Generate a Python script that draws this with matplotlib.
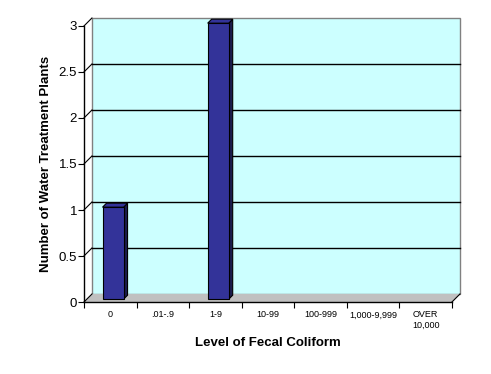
import matplotlib.pyplot as plt
from matplotlib.patches import Polygon, Rectangle

# ============================================
# Data
# ============================================
categories = ['0', '.01-.9', '1-9', '10-99', '100-999', '1,000-9,999', 'OVER\n10,000']
plant_counts = [1, 0, 3, 0, 0, 0, 0]
y_ticks = [0, 0.5, 1, 1.5, 2, 2.5, 3]

# ============================================
# Style / pseudo-3D geometry (Excel look)
# ============================================
WALL = '#ccffff'
FLOOR = '#c0c0c0'
BAR_FRONT = '#333399'
BAR_SIDE = '#1c1c4c'
DX, DY = 0.152, 0.087      # depth of the floor in data units
F1, F2 = 0.35, 0.85        # bar front/back depth fraction
BAR_W = 0.4

plt.rcParams['font.family'] = ['Liberation Sans', 'DejaVu Sans']

fig = plt.figure(figsize=(4.91, 3.74), dpi=100)
ax = fig.add_axes([0.171, 0.1925, 0.7495, 0.738])
n = len(categories)
ax.set_xlim(0, n)
ax.set_ylim(0, 3)

# back wall and floor
ax.add_patch(Rectangle((DX, DY), n, 3, facecolor=WALL, edgecolor='#808080',
                       linewidth=1, clip_on=False, zorder=1))
ax.add_patch(Polygon([(0, 0), (n, 0), (n + DX, DY), (DX, DY)], closed=True,
                     facecolor=FLOOR, edgecolor='none', clip_on=False, zorder=2))
ax.plot([n, n + DX], [0, DY], color='black', linewidth=0.8, clip_on=False, zorder=3)

# gridlines on the back wall plus the little diagonals on the side wall
for t in y_ticks:
    if 0 < t < 3:
        ax.plot([DX, n + DX], [t + DY, t + DY], color='black', linewidth=1,
                clip_on=False, zorder=3)
    ax.plot([0, DX], [t, t + DY], color='black', linewidth=0.8,
            clip_on=False, zorder=3)

# bars
for i, v in enumerate(plant_counts):
    if v <= 0:
        continue
    xl = i + 0.5 - BAR_W / 2 + F1 * DX
    xr = xl + BAR_W
    y0 = F1 * DY
    bx, by = (F2 - F1) * DX, (F2 - F1) * DY
    ax.add_patch(Polygon([(xr, y0), (xr + bx, y0 + by), (xr + bx, v + y0 + by), (xr, v + y0)],
                         closed=True, facecolor=BAR_SIDE, edgecolor='black',
                         linewidth=0.8, clip_on=False, zorder=4))
    ax.add_patch(Polygon([(xl, v + y0), (xr, v + y0), (xr + bx, v + y0 + by), (xl + bx, v + y0 + by)],
                         closed=True, facecolor=BAR_FRONT, edgecolor='black',
                         linewidth=0.8, clip_on=False, zorder=4))
    ax.bar(xl, v, width=BAR_W, bottom=y0, align='edge', color=BAR_FRONT,
           edgecolor='black', linewidth=0.8, clip_on=False, zorder=5)

# axes
for side in ['top', 'right']:
    ax.spines[side].set_visible(False)
ax.spines['left'].set_linewidth(1)
ax.spines['bottom'].set_linewidth(1)
ax.spines['left'].set_zorder(6)
ax.spines['bottom'].set_zorder(6)
ax.set_facecolor('none')

ax.set_yticks(y_ticks)
ax.set_yticklabels([f'{t:g}' for t in y_ticks], fontsize=9.5)
ax.tick_params(axis='y', length=4, width=0.8, pad=1)

ax.set_xticks([i + 0.5 for i in range(n)])
ax.set_xticklabels(categories, fontsize=6.5, linespacing=1.25)
ax.set_xticks(range(n + 1), minor=True)
ax.tick_params(axis='x', which='major', length=0, pad=6)
ax.tick_params(axis='x', which='minor', length=4, width=0.8)

ax.set_ylabel('Number of Water Treatment Plants', fontsize=9.5, fontweight='bold', labelpad=5)
ax.set_xlabel('Level of Fecal Coliform', fontsize=9.5, fontweight='bold', labelpad=5)

fig.savefig('out.png', dpi=100)
